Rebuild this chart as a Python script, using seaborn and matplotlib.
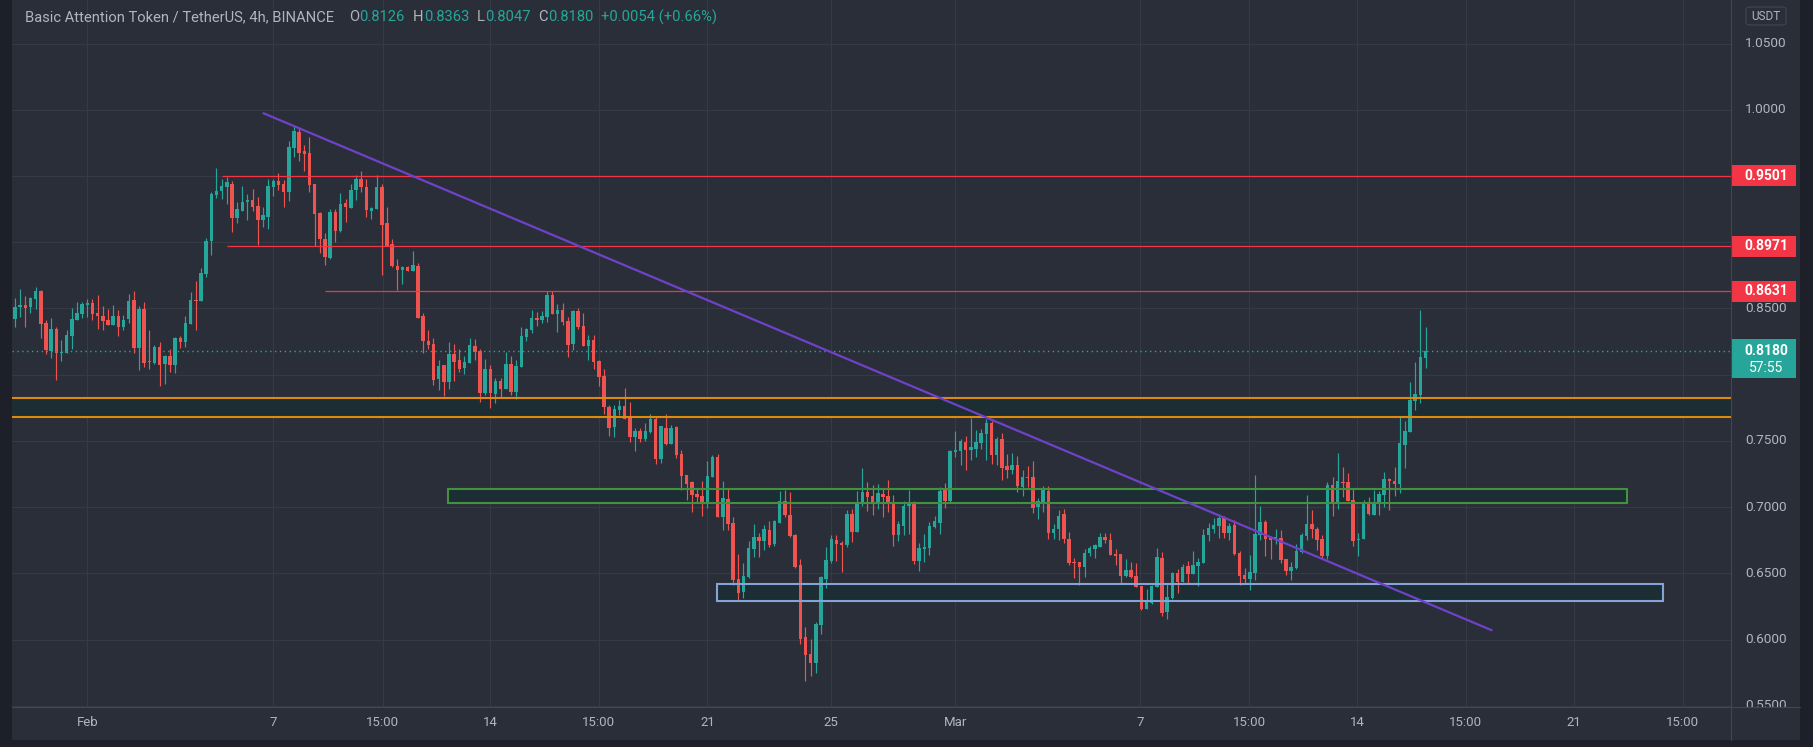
import numpy as np
import matplotlib
matplotlib.use("Agg")
import matplotlib.pyplot as plt
import seaborn as sns
from matplotlib.patches import Rectangle, FancyBboxPatch
from matplotlib.lines import Line2D
from matplotlib.transforms import Bbox

# ---------------- data (4h candles, BAT/USDT) ----------------
first_index = -14   # index of first candle; 0 = Feb 1 00:00, one unit = one 4h bar

open_ = [
    0.8421, 0.8509, 0.8524, 0.8514, 0.8574, 0.8630, 0.8390, 0.8182, 0.8345, 0.8167,
    0.8167, 0.8295, 0.8413, 0.8458, 0.8524, 0.8541, 0.8466, 0.8443, 0.8413, 0.8375,
    0.8443, 0.8360, 0.8421, 0.8564, 0.8202, 0.8496, 0.8106, 0.8089, 0.8209, 0.8083,
    0.8141, 0.8073, 0.8277, 0.8247, 0.8385, 0.8564, 0.8557, 0.8760, 0.9010, 0.9359,
    0.9389, 0.9420, 0.9440, 0.9183, 0.9239, 0.9304, 0.9319, 0.9274, 0.9171, 0.9193,
    0.9415, 0.9463, 0.9440, 0.9382, 0.9714, 0.9832, 0.9689, 0.9674, 0.9440, 0.9221,
    0.9025, 0.8884, 0.9228, 0.9088, 0.9296, 0.9261, 0.9392, 0.9478, 0.9417, 0.9239,
    0.9254, 0.9417, 0.9145, 0.8987, 0.8823, 0.8793, 0.8811, 0.8786, 0.8821, 0.8443,
    0.8257, 0.8232, 0.7968, 0.8073, 0.7945, 0.8159, 0.8111, 0.8051, 0.8088, 0.8217,
    0.8179, 0.7862, 0.8043, 0.7854, 0.7953, 0.7892, 0.8081, 0.7870, 0.8058, 0.8287,
    0.8338, 0.8428, 0.8413, 0.8436, 0.8602, 0.8461, 0.8489, 0.8406, 0.8232, 0.8481,
    0.8368, 0.8219, 0.8262, 0.8104, 0.7990, 0.7756, 0.7608, 0.7734, 0.7764, 0.7676,
    0.7532, 0.7575, 0.7517, 0.7570, 0.7666, 0.7366, 0.7598, 0.7480, 0.7605, 0.7402,
    0.7243, 0.7188, 0.7102, 0.7084, 0.7034, 0.7231, 0.7379, 0.6928, 0.7062, 0.6878,
    0.6455, 0.6360, 0.6475, 0.6684, 0.6772, 0.6745, 0.6825, 0.6722, 0.6883, 0.7047,
    0.6941, 0.6790, 0.6563, 0.6020, 0.5892, 0.5824, 0.6111, 0.6458, 0.6594, 0.6752,
    0.6730, 0.6714, 0.6949, 0.6813, 0.7032, 0.7115, 0.7084, 0.7027, 0.7100, 0.7084,
    0.7039, 0.6790, 0.6858, 0.7009, 0.7024, 0.6594, 0.6684, 0.6692, 0.6850, 0.6883,
    0.7130, 0.7047, 0.7417, 0.7424, 0.7492, 0.7432, 0.7439, 0.7485, 0.7555, 0.7635,
    0.7394, 0.7515, 0.7311, 0.7281, 0.7318, 0.7152, 0.7228, 0.7228, 0.7001, 0.7029,
    0.7122, 0.6805, 0.6835, 0.6948, 0.6760, 0.6586, 0.6586, 0.6551, 0.6654, 0.6687,
    0.6702, 0.6775, 0.6752, 0.6646, 0.6646, 0.6483, 0.6526, 0.6480, 0.6405, 0.6231,
    0.6277, 0.6400, 0.6616, 0.6209, 0.6317, 0.6503, 0.6435, 0.6556, 0.6498, 0.6558,
    0.6581, 0.6790, 0.6835, 0.6860, 0.6918, 0.6808, 0.6865, 0.6654, 0.6491, 0.6460,
    0.6503, 0.6790, 0.6888, 0.6770, 0.6755, 0.6767, 0.6609, 0.6521, 0.6541, 0.6664,
    0.6785, 0.6873, 0.6835, 0.6760, 0.6634, 0.7167, 0.7039, 0.7190, 0.7190, 0.7054,
    0.6755, 0.6762, 0.7032, 0.6944, 0.7032, 0.7092, 0.7213, 0.7198, 0.7175, 0.7469,
    0.7568, 0.7804, 0.7847, 0.8126]

high = [
    0.8577, 0.8647, 0.8594, 0.8589, 0.8662, 0.8640, 0.8413, 0.8428, 0.8363, 0.8262,
    0.8338, 0.8504, 0.8549, 0.8549, 0.8572, 0.8569, 0.8602, 0.8519, 0.8496, 0.8526,
    0.8489, 0.8451, 0.8609, 0.8630, 0.8519, 0.8549, 0.8338, 0.8224, 0.8247, 0.8151,
    0.8194, 0.8282, 0.8292, 0.8443, 0.8625, 0.8708, 0.8806, 0.9032, 0.9382, 0.9561,
    0.9478, 0.9495, 0.9463, 0.9304, 0.9425, 0.9364, 0.9402, 0.9344, 0.9269, 0.9478,
    0.9478, 0.9523, 0.9470, 0.9765, 0.9878, 0.9863, 0.9734, 0.9795, 0.9440, 0.9228,
    0.9067, 0.9251, 0.9251, 0.9372, 0.9327, 0.9440, 0.9508, 0.9538, 0.9478, 0.9269,
    0.9508, 0.9440, 0.9266, 0.9025, 0.8876, 0.8823, 0.8823, 0.8934, 0.8841, 0.8468,
    0.8338, 0.8280, 0.8111, 0.8073, 0.8245, 0.8232, 0.8194, 0.8141, 0.8277, 0.8270,
    0.8197, 0.8119, 0.8073, 0.7975, 0.7975, 0.8172, 0.8141, 0.8111, 0.8360, 0.8353,
    0.8489, 0.8474, 0.8481, 0.8632, 0.8632, 0.8534, 0.8541, 0.8436, 0.8489, 0.8504,
    0.8466, 0.8300, 0.8300, 0.8111, 0.8043, 0.7771, 0.7771, 0.7809, 0.7900, 0.7794,
    0.7598, 0.7598, 0.7635, 0.7703, 0.7688, 0.7613, 0.7703, 0.7620, 0.7613, 0.7432,
    0.7243, 0.7200, 0.7142, 0.7200, 0.7351, 0.7394, 0.7402, 0.7200, 0.7140, 0.6923,
    0.6647, 0.6576, 0.6745, 0.6873, 0.6802, 0.6863, 0.6893, 0.6903, 0.7122, 0.7130,
    0.7112, 0.6797, 0.6609, 0.6095, 0.6007, 0.6133, 0.6483, 0.6699, 0.6790, 0.6790,
    0.6742, 0.6979, 0.6986, 0.7122, 0.7296, 0.7190, 0.7167, 0.7175, 0.7137, 0.7205,
    0.7092, 0.6893, 0.7047, 0.7130, 0.7047, 0.6730, 0.6797, 0.6888, 0.6933, 0.7152,
    0.7183, 0.7432, 0.7575, 0.7515, 0.7537, 0.7673, 0.7583, 0.7590, 0.7665, 0.7648,
    0.7530, 0.7560, 0.7401, 0.7409, 0.7386, 0.7281, 0.7311, 0.7349, 0.7069, 0.7160,
    0.7160, 0.6873, 0.6979, 0.6986, 0.6813, 0.6616, 0.6586, 0.6684, 0.6707, 0.6722,
    0.6805, 0.6805, 0.6805, 0.6684, 0.6646, 0.6609, 0.6586, 0.6578, 0.6405, 0.6380,
    0.6412, 0.6692, 0.6662, 0.6420, 0.6510, 0.6531, 0.6571, 0.6594, 0.6669, 0.6616,
    0.6833, 0.6880, 0.6918, 0.6946, 0.6933, 0.6883, 0.6906, 0.6669, 0.6541, 0.6639,
    0.7243, 0.7009, 0.6903, 0.6782, 0.6835, 0.6828, 0.6609, 0.6586, 0.6722, 0.6805,
    0.7092, 0.6979, 0.6850, 0.6790, 0.7190, 0.7228, 0.7409, 0.7303, 0.7258, 0.7145,
    0.6805, 0.7054, 0.7077, 0.7130, 0.7122, 0.7266, 0.7220, 0.7303, 0.7681, 0.7651,
    0.7945, 0.8096, 0.8489, 0.8363]

low = [
    0.8363, 0.8438, 0.8363, 0.8469, 0.8499, 0.8280, 0.8159, 0.8129, 0.7963, 0.8106,
    0.8167, 0.8194, 0.8413, 0.8428, 0.8438, 0.8413, 0.8345, 0.8338, 0.8375, 0.8375,
    0.8292, 0.8338, 0.8393, 0.8167, 0.8038, 0.8061, 0.8046, 0.8083, 0.7917, 0.7932,
    0.8023, 0.8016, 0.8202, 0.8209, 0.8385, 0.8338, 0.8557, 0.8740, 0.8906, 0.9337,
    0.9327, 0.9286, 0.9077, 0.9145, 0.9239, 0.9168, 0.9236, 0.8982, 0.9118, 0.9102,
    0.9349, 0.9395, 0.9269, 0.9314, 0.9644, 0.9613, 0.9538, 0.9382, 0.8974, 0.8921,
    0.8831, 0.8876, 0.9005, 0.9080, 0.9156, 0.9261, 0.9319, 0.9382, 0.9193, 0.9178,
    0.9254, 0.8755, 0.8974, 0.8816, 0.8637, 0.8687, 0.8786, 0.8786, 0.8428, 0.8166,
    0.8197, 0.7922, 0.7885, 0.7842, 0.7892, 0.7953, 0.8021, 0.8006, 0.8088, 0.8111,
    0.7794, 0.7847, 0.7749, 0.7789, 0.7834, 0.7892, 0.7847, 0.7817, 0.8058, 0.8255,
    0.8315, 0.8368, 0.8391, 0.8398, 0.8461, 0.8323, 0.8375, 0.8134, 0.8187, 0.8345,
    0.8217, 0.8111, 0.8043, 0.7915, 0.7703, 0.7540, 0.7532, 0.7696, 0.7668, 0.7495,
    0.7424, 0.7495, 0.7502, 0.7563, 0.7329, 0.7336, 0.7472, 0.7480, 0.7374, 0.7132,
    0.7057, 0.6966, 0.7037, 0.6936, 0.6996, 0.7231, 0.6928, 0.6828, 0.6828, 0.6412,
    0.6302, 0.6317, 0.6463, 0.6626, 0.6626, 0.6677, 0.6702, 0.6709, 0.6878, 0.6923,
    0.6772, 0.6543, 0.5970, 0.5690, 0.5728, 0.5751, 0.6045, 0.6392, 0.6579, 0.6594,
    0.6513, 0.6699, 0.6737, 0.6813, 0.7009, 0.6971, 0.6941, 0.6986, 0.6926, 0.6964,
    0.6707, 0.6745, 0.6790, 0.6797, 0.6571, 0.6518, 0.6586, 0.6639, 0.6845, 0.6797,
    0.6994, 0.7039, 0.7379, 0.7318, 0.7281, 0.7356, 0.7376, 0.7439, 0.7356, 0.7326,
    0.7318, 0.7205, 0.7220, 0.7250, 0.7115, 0.7084, 0.7152, 0.6956, 0.6911, 0.6964,
    0.6760, 0.6760, 0.6755, 0.6732, 0.6566, 0.6465, 0.6412, 0.6475, 0.6631, 0.6616,
    0.6699, 0.6730, 0.6639, 0.6566, 0.6427, 0.6475, 0.6468, 0.6395, 0.6226, 0.6231,
    0.6267, 0.6400, 0.6181, 0.6158, 0.6309, 0.6352, 0.6435, 0.6427, 0.6498, 0.6407,
    0.6581, 0.6745, 0.6805, 0.6770, 0.6770, 0.6755, 0.6639, 0.6415, 0.6425, 0.6375,
    0.6453, 0.6755, 0.6634, 0.6611, 0.6725, 0.6581, 0.6488, 0.6453, 0.6536, 0.6657,
    0.6755, 0.6770, 0.6679, 0.6619, 0.6611, 0.6936, 0.6989, 0.7079, 0.7049, 0.6709,
    0.6634, 0.6762, 0.6941, 0.6944, 0.6944, 0.6999, 0.6979, 0.7084, 0.7107, 0.7298,
    0.7568, 0.7734, 0.7787, 0.8047]

close = [
    0.8509, 0.8524, 0.8506, 0.8577, 0.8630, 0.8385, 0.8189, 0.8345, 0.8167, 0.8174,
    0.8300, 0.8421, 0.8466, 0.8536, 0.8541, 0.8458, 0.8443, 0.8406, 0.8375, 0.8443,
    0.8360, 0.8413, 0.8557, 0.8202, 0.8496, 0.8089, 0.8098, 0.8209, 0.8073, 0.8141,
    0.8073, 0.8277, 0.8247, 0.8390, 0.8564, 0.8557, 0.8768, 0.9010, 0.9364, 0.9389,
    0.9425, 0.9455, 0.9183, 0.9251, 0.9304, 0.9319, 0.9266, 0.9171, 0.9203, 0.9422,
    0.9463, 0.9432, 0.9382, 0.9719, 0.9837, 0.9676, 0.9669, 0.9435, 0.9216, 0.9027,
    0.8891, 0.9228, 0.9088, 0.9289, 0.9266, 0.9395, 0.9478, 0.9415, 0.9246, 0.9261,
    0.9417, 0.9133, 0.8974, 0.8823, 0.8793, 0.8811, 0.8786, 0.8828, 0.8428, 0.8257,
    0.8227, 0.7960, 0.8066, 0.7945, 0.8159, 0.8096, 0.8043, 0.8096, 0.8224, 0.8172,
    0.7862, 0.8043, 0.7862, 0.7953, 0.7892, 0.8081, 0.7870, 0.8066, 0.8292, 0.8345,
    0.8428, 0.8413, 0.8443, 0.8602, 0.8461, 0.8489, 0.8398, 0.8224, 0.8481, 0.8360,
    0.8219, 0.8262, 0.8096, 0.7983, 0.7756, 0.7600, 0.7741, 0.7764, 0.7668, 0.7532,
    0.7575, 0.7517, 0.7575, 0.7666, 0.7366, 0.7613, 0.7480, 0.7598, 0.7396, 0.7238,
    0.7178, 0.7095, 0.7077, 0.7034, 0.7233, 0.7379, 0.6928, 0.7069, 0.6876, 0.6450,
    0.6355, 0.6478, 0.6689, 0.6772, 0.6745, 0.6833, 0.6715, 0.6893, 0.7047, 0.6941,
    0.6782, 0.6548, 0.6005, 0.5884, 0.5824, 0.6118, 0.6473, 0.6601, 0.6760, 0.6722,
    0.6714, 0.6949, 0.6813, 0.7039, 0.7115, 0.7077, 0.7032, 0.7107, 0.7077, 0.7032,
    0.6790, 0.6873, 0.7009, 0.7024, 0.6594, 0.6692, 0.6699, 0.6858, 0.6896, 0.7122,
    0.7047, 0.7424, 0.7432, 0.7500, 0.7432, 0.7454, 0.7490, 0.7557, 0.7635, 0.7394,
    0.7515, 0.7296, 0.7278, 0.7318, 0.7160, 0.7228, 0.7220, 0.6994, 0.7047, 0.7130,
    0.6805, 0.6835, 0.6933, 0.6760, 0.6581, 0.6576, 0.6551, 0.6654, 0.6692, 0.6712,
    0.6775, 0.6752, 0.6639, 0.6631, 0.6483, 0.6526, 0.6475, 0.6400, 0.6231, 0.6284,
    0.6405, 0.6624, 0.6204, 0.6322, 0.6503, 0.6435, 0.6548, 0.6498, 0.6563, 0.6586,
    0.6790, 0.6843, 0.6865, 0.6918, 0.6808, 0.6860, 0.6649, 0.6483, 0.6460, 0.6511,
    0.6798, 0.6888, 0.6762, 0.6755, 0.6775, 0.6604, 0.6521, 0.6548, 0.6669, 0.6790,
    0.6873, 0.6838, 0.6755, 0.6634, 0.7167, 0.7039, 0.7198, 0.7185, 0.7049, 0.6747,
    0.6762, 0.7039, 0.6949, 0.7039, 0.7100, 0.7213, 0.7198, 0.7175, 0.7485, 0.7575,
    0.7809, 0.7854, 0.8134, 0.8180]

# time axis
tick_pos = [0, 36, 57.2, 78, 99, 120, 144, 168, 203.8, 224.9, 245.8, 266.8, 287.7, 308.8]
tick_labels = ["Feb", "7", "15:00", "14", "15:00", "21", "25", "Mar", "7", "15:00",
               "14", "15:00", "21", "15:00"]

# price axis
grid_prices = [0.55, 0.60, 0.65, 0.70, 0.75, 0.80, 0.85, 0.90, 0.95, 1.00, 1.05]
axis_label_prices = [1.05, 1.00, 0.85, 0.75, 0.70, 0.65, 0.60, 0.55]

# drawings
resistance_levels = [0.9501, 0.8971, 0.8631]
resistance_start = [26.1, 27.0, 46.0]
orange_band = [0.7684, 0.7827]
green_zone = [69.9, 298.0, 0.7034, 0.7140]
blue_zone = [121.9, 304.9, 0.6294, 0.6423]
trend_x = [34.1, 271.8]
trend_y = [0.9974, 0.6071]
last_price = 0.8180
countdown = "57:55"

title = "Basic Attention Token / TetherUS, 4h, BINANCE"
ohlc_letters = ["O", "H", "L", "C"]
ohlc_values = ["0.8126", "0.8363", "0.8047", "0.8180"]
change_text = "+0.0054 (+0.66%)"

# ---------------- style ----------------
sns.set_theme(style="dark")
plt.rcParams['font.family'] = ['Roboto', 'DejaVu Sans']

OUTER = '#1e2029'
BG = '#2a2e39'
GRID = '#363a45'
SEP = '#434651'
TXT = '#b2b5be'
UP = '#26a69a'
DOWN = '#ef5350'
RED = '#f23645'
ORANGE = '#e08a0c'
ZONE_FILL = '#1c2d33'
GREEN_EDGE = '#43903f'
BLUE_EDGE = '#85a3d6'
PURPLE = '#6f42c9'

W, H = 1813, 747
fig = plt.figure(figsize=(W / 100, H / 100), dpi=100)
fig.patch.set_facecolor(OUTER)
fig.add_artist(Rectangle((12 / W, 7 / H), 1788 / W, 740 / H, transform=fig.transFigure,
                         facecolor=BG, edgecolor='none', zorder=-1))

ax = fig.add_axes([12 / W, 40 / H, 1719 / W, 707 / H])
ax.set_facecolor(BG)

# zones (fills below candles)
ax.axhspan(orange_band[0], orange_band[1], color=ZONE_FILL, lw=0, zorder=1)
for zx0, zx1, zy0, zy1 in [green_zone, blue_zone]:
    ax.add_patch(Rectangle((zx0, zy0), zx1 - zx0, zy1 - zy0, facecolor=ZONE_FILL,
                           edgecolor='none', zorder=1))

# candles
x = np.arange(len(close)) + first_index
o = np.array(open_)
h = np.array(high)
l = np.array(low)
c = np.array(close)
colors = np.where(c >= o, UP, DOWN)
ax.vlines(x, l, h, colors=colors, lw=0.85, zorder=3)
ax.bar(x, np.maximum(np.abs(c - o), 0.0008), bottom=np.minimum(o, c), width=0.68,
       color=colors, lw=0, zorder=3.1)

# drawings on top
for lv in orange_band:
    ax.axhline(lv, color=ORANGE, lw=1.5, zorder=4)
for (zx0, zx1, zy0, zy1), ec in [(green_zone, GREEN_EDGE), (blue_zone, BLUE_EDGE)]:
    ax.add_patch(Rectangle((zx0, zy0), zx1 - zx0, zy1 - zy0, facecolor='none',
                           edgecolor=ec, lw=1.5, zorder=4))
x_right = 318.12
ax.hlines(resistance_levels, resistance_start, x_right, color=RED, lw=0.9, zorder=4)
ax.axhline(last_price, color=UP, lw=1.0, ls=(0, (1, 2.5)), zorder=4)
sns.lineplot(x=trend_x, y=trend_y, ax=ax, color=PURPLE, lw=1.6, zorder=5, legend=False)

# axes setup
ax.set_xlim(-14.57, x_right)
ax.set_ylim(0.54915, 1.08289)
ax.set_xticks(tick_pos)
ax.set_xticklabels(tick_labels)
ax.set_yticks(grid_prices)
ax.grid(True, color=GRID, lw=0.8)
ax.set_axisbelow(True)
ax.tick_params(axis='x', length=0, pad=6.8, labelcolor=TXT, labelsize=9.5)
ax.tick_params(axis='y', length=0, labelleft=False, labelright=False)
ax.set_xlabel("")
ax.set_ylabel("")
for s in ax.spines.values():
    s.set_visible(False)

# price axis labels
ytr = ax.get_yaxis_transform()
clip_bb = Bbox.from_extents(0, 40, W, H)
for v in axis_label_prices:
    t = ax.text(1.0204, v, f"{v:.4f}", transform=ytr, ha='center', va='center',
                color=TXT, fontsize=9.7, clip_on=True)
    t.set_clip_path(None)
    t.set_clip_box(clip_bb)

box_w = 0.0378
hh = 10.5 / 1324.6
for lv in resistance_levels:
    ax.add_patch(Rectangle((1.0, lv - hh), box_w, 2 * hh, transform=ytr, facecolor=RED,
                           edgecolor='none', clip_on=False, zorder=6))
    ax.text(1.0204, lv, f"{lv:.4f}", transform=ytr, ha='center', va='center',
            color='white', fontsize=10, fontweight='bold', clip_on=False, zorder=7)
ax.add_patch(Rectangle((1.0, last_price - 27 / 1324.6), box_w, 39 / 1324.6, transform=ytr,
                       facecolor=UP, edgecolor='none', clip_on=False, zorder=6))
ax.text(1.0204, last_price, f"{last_price:.4f}", transform=ytr, ha='center', va='center',
        color='white', fontsize=10, fontweight='bold', clip_on=False, zorder=7)
ax.text(1.0204, last_price - 17 / 1324.6, countdown, transform=ytr, ha='center',
        va='center', color='white', fontsize=10, clip_on=False, zorder=7)

# separators
fig.add_artist(Line2D([1731 / W, 1731 / W], [7 / H, 1], transform=fig.transFigure,
                      color=SEP, lw=0.8))
fig.add_artist(Line2D([12 / W, 1800 / W], [40 / H, 40 / H], transform=fig.transFigure,
                      color=SEP, lw=0.8))

# USDT box
fig.add_artist(FancyBboxPatch((1746 / W, 1 - 25 / H), 40 / W, 18 / H,
                              boxstyle="round,pad=0,rounding_size=0.003",
                              transform=fig.transFigure, facecolor='none',
                              edgecolor=SEP, lw=0.8))
fig.text(1766 / W, 1 - 16 / H, "USDT", ha='center', va='center', color=TXT, fontsize=8.5)

# header
hy = 1 - 17 / H
fig.text(25 / W, hy, title, color=TXT, fontsize=10.6, va='center', ha='left')
for letter, val, xpx in zip(ohlc_letters, ohlc_values, [349, 413, 477, 538]):
    t = fig.text(xpx / W, hy, letter, color=TXT, fontsize=10.6, va='center', ha='left')
    ax.annotate(val, xy=(1, 0.5), xycoords=t, xytext=(0.3, 0), textcoords='offset points',
                va='center', ha='left', color=UP, fontsize=10.6, annotation_clip=False)
fig.text(601 / W, hy, change_text, color=UP, fontsize=10.6, va='center', ha='left')

fig.savefig("out.png", dpi=100, facecolor=fig.get_facecolor())
